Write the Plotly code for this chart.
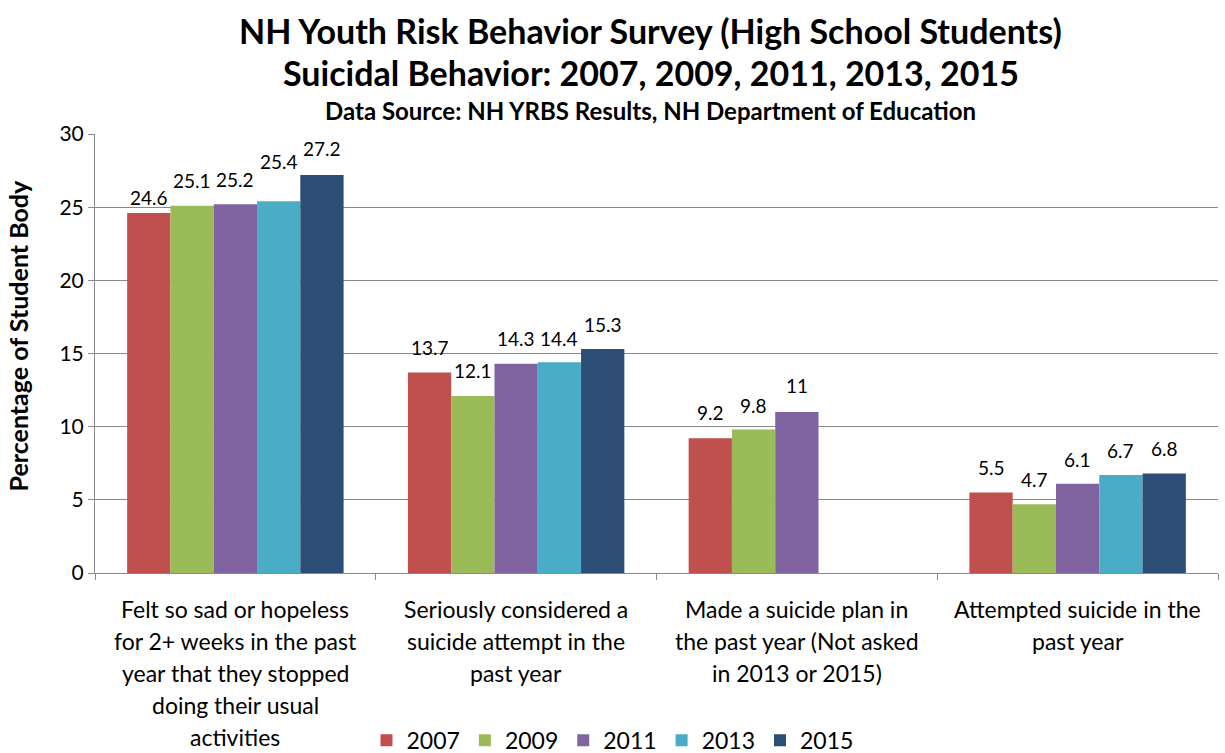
import plotly.graph_objects as go

categories = [
    "Felt so sad or hopeless<br>for 2+ weeks in the past<br>year that they stopped<br>doing their usual<br>activities",
    "Seriously considered a<br>suicide attempt in the<br>past year",
    "Made a suicide plan in<br>the past year (Not asked<br>in 2013 or 2015)",
    "Attempted suicide in the<br>past year",
]
years = ["2007", "2009", "2011", "2013", "2015"]
v2007 = [24.6, 13.7, 9.2, 5.5]
v2009 = [25.1, 12.1, 9.8, 4.7]
v2011 = [25.2, 14.3, 11, 6.1]
v2013 = [25.4, 14.4, None, 6.7]
v2015 = [27.2, 15.3, None, 6.8]
series = [v2007, v2009, v2011, v2013, v2015]

# style
colors = ["#C0504D", "#9BBB59", "#8064A2", "#4BACC6", "#2C4D75"]
label_gap_px = [
    [8, 18, 18, 18],
    [18, 18, 17, 17],
    [17, 18, 19, 17],
    [32, 16, 0, 17],
    [19, 17, 0, 17],
]
FONT = "Lato"
W, H = 1225, 753
ML, MR, MT, MB = 95, 7, 134, 180
BARGAP = 0.229
plot_w = W - ML - MR
bar_px = plot_w / len(categories) * (1 - BARGAP) / len(years)

fig = go.Figure()
for y, vals, c in zip(years, series, colors):
    fig.add_trace(go.Bar(name=y, x=categories, y=vals, marker=dict(color=c, line=dict(width=0)),
                         hoverinfo="x+y+name"))

annotations = []
for i, vals in enumerate(series):
    for j, v in enumerate(vals):
        if v is None:
            continue
        annotations.append(dict(
            x=categories[j], y=v, xref="x", yref="y", text=f"{v:g}", showarrow=False,
            xanchor="center", yanchor="bottom", xshift=(i - 2) * bar_px,
            yshift=label_gap_px[i][j] - 6,
            font=dict(family=FONT, size=19, color="#000000"),
        ))

# category labels, one annotation per line
for j, cat in enumerate(categories):
    for k, line in enumerate(cat.split("<br>")):
        annotations.append(dict(
            x=categories[j], y=0, xref="x", yref="paper", text=line, showarrow=False,
            xanchor="center", yanchor="middle", yshift=-36 - 32 * k,
            font=dict(family=FONT, size=23, color="#000000"),
        ))

# titles
for txt, size, ys in [
    ("NH Youth Risk Behavior Survey (High School Students)", 34, 104),
    ("Suicidal Behavior: 2007, 2009, 2011, 2013, 2015", 34, 62),
    ("Data Source: NH YRBS Results, NH Department of Education", 24, 24),
]:
    annotations.append(dict(
        x=0.5, y=1, xref="paper", yref="paper", text=f"<b>{txt}</b>", showarrow=False,
        xanchor="center", yanchor="middle", yshift=ys, xshift=-6,
        font=dict(family=FONT, size=size, color="#000000"),
    ))

# y-axis title
annotations.append(dict(
    x=0, y=0.5, xref="paper", yref="paper", text="<b>Percentage of Student Body</b>",
    showarrow=False, textangle=-90, xanchor="center", yanchor="middle",
    xshift=-78, yshift=18, font=dict(family=FONT, size=25, color="#000000"),
))

fig.update_layout(
    width=W, height=H,
    margin=dict(l=ML, r=MR, t=MT, b=MB, autoexpand=False),
    barmode="group", bargap=BARGAP, bargroupgap=0,
    paper_bgcolor="white", plot_bgcolor="white",
    font=dict(family=FONT, color="#000000"),
    annotations=annotations,
    legend=dict(orientation="h", xref="container", yref="container", x=0.5, y=0.017,
                xanchor="center", yanchor="middle", font=dict(family=FONT, size=23),
                itemwidth=30, traceorder="normal"),
    showlegend=True,
)
fig.update_xaxes(
    showticklabels=False, ticks="outside", tickson="boundaries", ticklen=6,
    tickcolor="#898989", showline=True, linecolor="#898989", linewidth=1,
    showgrid=False, automargin=False,
)
fig.update_yaxes(
    range=[0, 30], dtick=5, tick0=0, ticks="outside", ticklen=6, tickcolor="#898989",
    showline=True, linecolor="#898989", linewidth=1,
    showgrid=True, gridcolor="#898989", gridwidth=1, zeroline=False,
    tickfont=dict(family=FONT, size=21, color="#000000"),
    automargin=False,
)

fig.write_html(
    "out.html",
    config={"displayModeBar": False},
    post_script="document.body.style.margin='0';document.body.style.overflow='hidden';",
)
